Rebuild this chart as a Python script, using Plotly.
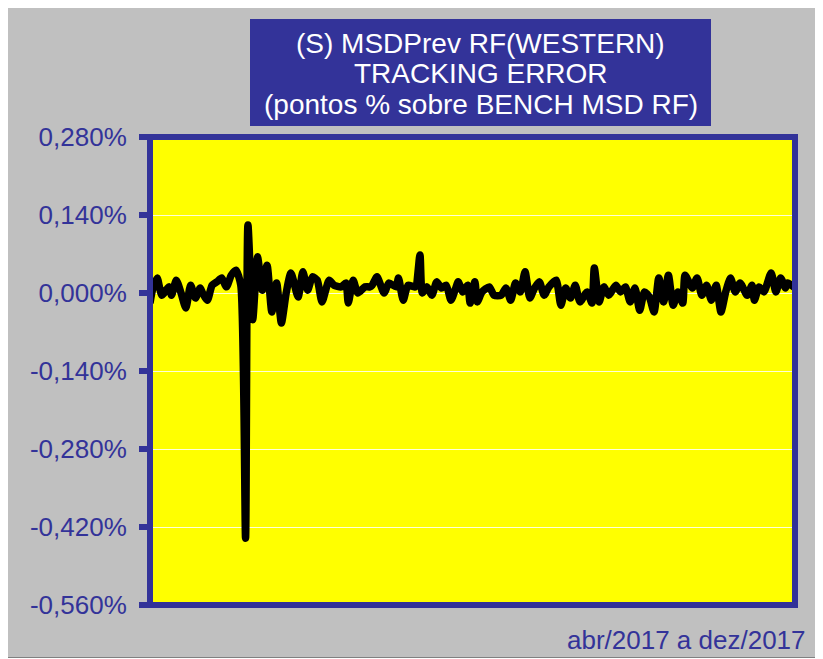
import pandas as pd
import plotly.graph_objects as go

# ---- data ----
start_date = "2017-04-03"
day_offset = [0, 1, 3, 4, 5, 8, 9, 11, 13, 15, 17, 19, 21, 22, 24, 26, 28, 30, 32, 34, 36, 38,
              40, 41, 43, 45, 47, 49, 51, 53, 55, 57, 59, 62, 64, 66, 68, 70, 72, 75, 77, 80,
              82, 83, 85, 87, 90, 92, 93, 95, 98, 100, 103, 104, 106, 108, 111, 113, 114, 116,
              118, 120, 122, 124, 126, 128, 129, 131, 133, 134, 136, 137, 139, 142, 144, 147,
              149, 151, 153, 155, 157, 159, 161, 163, 165, 167, 170, 172, 174, 176, 178, 180,
              183, 185, 186, 188, 190, 192, 195, 197, 199, 201, 203, 205, 207, 209, 211, 213,
              215, 217, 219, 221, 223, 224, 227, 229, 231, 233, 235, 237, 239, 241, 243, 245,
              247, 250, 252, 253, 255, 257, 260, 262, 264, 266, 267, 270]
tracking_error = [-0.018, 0.005, 0.027, 0.010, -0.004, 0.011, -0.004, 0.023, 0.000, -0.027,
                  0.014, -0.009, 0.009, 0.000, -0.013, 0.014, 0.020, 0.027, 0.011, 0.032,
                  0.041, 0.014, -0.440, 0.122, -0.048, 0.065, 0.005, 0.050, -0.034, 0.018,
                  -0.054, 0.000, 0.036, -0.007, 0.038, 0.005, 0.029, 0.023, -0.016, 0.023,
                  0.014, 0.011, 0.018, -0.018, 0.023, 0.000, 0.011, 0.011, 0.014, 0.029,
                  0.000, 0.018, 0.011, 0.027, -0.013, 0.014, 0.011, 0.068, 0.000, 0.011,
                  -0.004, 0.020, 0.009, 0.014, -0.013, 0.009, 0.020, 0.002, 0.014, -0.018,
                  0.020, -0.016, 0.002, 0.011, -0.004, -0.004, 0.009, -0.013, 0.018, 0.002,
                  0.038, -0.009, 0.009, 0.020, -0.004, 0.011, 0.023, -0.022, 0.009, -0.009,
                  0.014, -0.016, 0.002, -0.018, 0.045, -0.016, 0.011, -0.004, 0.014, 0.002,
                  0.011, -0.016, 0.009, -0.031, 0.002, -0.007, -0.034, 0.027, -0.016, 0.032,
                  -0.022, 0.002, -0.018, 0.032, 0.009, 0.027, -0.004, 0.014, -0.013, 0.014,
                  -0.034, 0.002, 0.027, 0.002, 0.018, -0.004, 0.014, -0.013, 0.011, 0.002,
                  0.036, 0.002, 0.027, 0.009, 0.018, 0.009]
y_tick_values = [0.28, 0.14, 0.0, -0.14, -0.28, -0.42, -0.56]
y_tick_labels = ["0,280%", "0,140%", "0,000%", "-0,140%", "-0,280%", "-0,420%", "-0,560%"]
title_lines = ["(S) MSDPrev RF(WESTERN)", "TRACKING ERROR", "(pontos % sobre BENCH MSD RF)"]
period_text = "abr/2017 a dez/2017"

dates = pd.Timestamp(start_date) + pd.to_timedelta(day_offset, unit="D")

# page offset of the figure (browser body margin)
OFF = 8
W, H = 823, 650
# plot area in screen pixels
L, R, T, B = 150, 795, 137, 605
BLUE = "#333399"
FONT = "Liberation Sans, Arial, sans-serif"


def px(x):
    return (x - L) / (R - L)


def py(y):
    return (B - y) / (B - T)


fig = go.Figure()
fig.add_trace(go.Scatter(
    x=dates, y=tracking_error, mode="lines",
    line=dict(color="black", width=7.5, shape="spline", smoothing=0.6),
    hoverinfo="skip", showlegend=False,
))

shapes = [
    dict(type="rect", xref="paper", yref="paper", layer="below",
         x0=px(7.5), x1=px(840), y0=py(657.5), y1=py(7.5),
         fillcolor="#C0C0C0", line=dict(color="#808080", width=1)),
    dict(type="rect", xref="paper", yref="paper", layer="below",
         x0=0, x1=1, y0=0, y1=1, fillcolor="#FFFF00", line=dict(width=0)),
    dict(type="rect", xref="paper", yref="paper", layer="above",
         x0=0, x1=1, y0=0, y1=1, line=dict(color=BLUE, width=6)),
    dict(type="rect", xref="paper", yref="paper", layer="above",
         x0=px(250), x1=px(711), y0=py(126), y1=py(19),
         fillcolor=BLUE, line=dict(width=0)),
]

annotations = []
for line_text, yc in zip(title_lines, [43, 73, 104]):
    annotations.append(dict(
        text=line_text, xref="paper", yref="paper", x=px(480.5), y=py(yc),
        xanchor="center", yanchor="middle", showarrow=False,
        font=dict(family=FONT, size=28, color="white")))
annotations.append(dict(
    text=period_text, xref="paper", yref="paper", x=px(808), y=py(640),
    xanchor="right", yanchor="middle", showarrow=False,
    font=dict(family=FONT, size=26, color=BLUE)))

fig.update_layout(
    width=W, height=H,
    margin=dict(l=L - OFF, r=W - (R - OFF), t=T - OFF, b=H - (B - OFF), pad=0),
    paper_bgcolor="#C0C0C0", plot_bgcolor="rgba(0,0,0,0)",
    shapes=shapes, annotations=annotations,
    xaxis=dict(range=[pd.Timestamp(start_date), pd.Timestamp("2017-12-29")],
               visible=False, showgrid=False, zeroline=False),
    yaxis=dict(range=[-0.56, 0.28], tickvals=y_tick_values, ticktext=y_tick_labels,
               ticks="outside", ticklen=10, tickwidth=6, tickcolor=BLUE,
               ticklabelstandoff=7,
               tickfont=dict(family=FONT, size=26, color=BLUE),
               showgrid=True, gridcolor="rgba(255,255,255,0.85)", gridwidth=1,
               zeroline=False, showline=False),
)

fig.write_html("out.html")
